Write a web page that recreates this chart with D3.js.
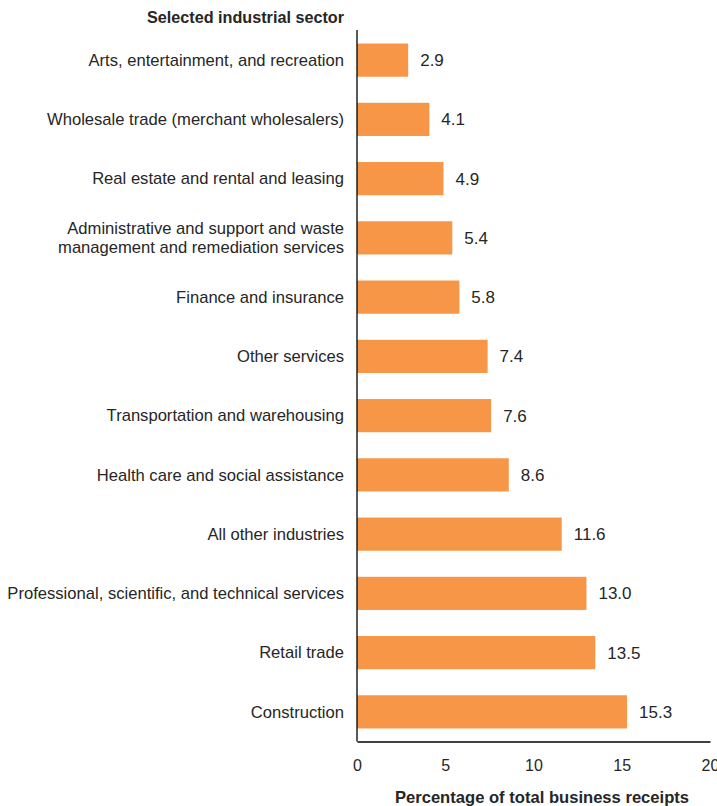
<!DOCTYPE html>
<html><head><meta charset="utf-8">
<script src="https://cdn.jsdelivr.net/npm/d3@7"></script>
<style>body{margin:0;background:#fff}svg{display:block}text{font-family:"Liberation Sans",Arial,sans-serif;fill:#262626}</style>
</head><body><svg id="c" width="717" height="806"></svg>
<script>
const categories = [
  ["Arts, entertainment, and recreation"],
  ["Wholesale trade (merchant wholesalers)"],
  ["Real estate and rental and leasing"],
  ["Administrative and support and waste","management and remediation services"],
  ["Finance and insurance"],
  ["Other services"],
  ["Transportation and warehousing"],
  ["Health care and social assistance"],
  ["All other industries"],
  ["Professional, scientific, and technical services"],
  ["Retail trade"],
  ["Construction"]
];
const values = [2.9, 4.1, 4.9, 5.4, 5.8, 7.4, 7.6, 8.6, 11.6, 13.0, 13.5, 15.3];
const xTicks = [0, 5, 10, 15, 20];
const yTitle = "Selected industrial sector";
const xTitle = "Percentage of total business receipts";

const svg = d3.select("#c");
const x = d3.scaleLinear().domain([0, 20]).range([357, 710]);
const y = d3.scaleBand().domain(d3.range(categories.length)).range([30.5, 741.5]).paddingInner(0.44).paddingOuter(0.22);

svg.append("g").selectAll("rect").data(values).join("rect")
  .attr("x", x(0)).attr("y", (d,i)=>y(i)).attr("width", d=>x(d)-x(0)).attr("height", y.bandwidth())
  .attr("fill", "#F79646");

svg.append("g").selectAll("text").data(values).join("text")
  .attr("x", d=>x(d)+12).attr("y", (d,i)=>y(i)+y.bandwidth()/2).attr("dy","0.35em")
  .style("font-size","17px").text(d=>d.toFixed(1));

const lab = svg.append("g").selectAll("text").data(categories).join("text")
  .attr("text-anchor","end").style("font-size","16.6px")
  .attr("transform",(d,i)=>`translate(344,${y(i)+y.bandwidth()/2})`);
lab.each(function(lines){
  const t = d3.select(this);
  const n = lines.length;
  lines.forEach((l,k)=>{
    t.append("tspan").attr("x",0).attr("y",(k-(n-1)/2)*19).attr("dy","0.35em").text(l);
  });
});

// axes
const xa = d3.axisBottom(x).tickValues(xTicks).tickSize(0).tickPadding(18).tickFormat(d3.format("d"));
const gx = svg.append("g").attr("transform","translate(0,741.5)").call(xa);
gx.select(".domain").attr("stroke","#000").attr("stroke-width",1.3);
gx.selectAll("text").style("font-size","16px").style("font-family",'"Liberation Sans",Arial,sans-serif').attr("fill","#262626");

svg.append("line").attr("x1",357).attr("x2",357).attr("y1",30).attr("y2",741.5).attr("stroke","#000").attr("stroke-width",1.3);

svg.append("text").attr("x",344).attr("y",17).attr("dy","0.35em").attr("text-anchor","end")
  .style("font-size","16.2px").style("font-weight","bold").text(yTitle);
svg.append("text").attr("x",542).attr("y",797).attr("dy","0.35em").attr("text-anchor","middle")
  .style("font-size","16.6px").style("font-weight","bold").text(xTitle);
</script></body></html>
